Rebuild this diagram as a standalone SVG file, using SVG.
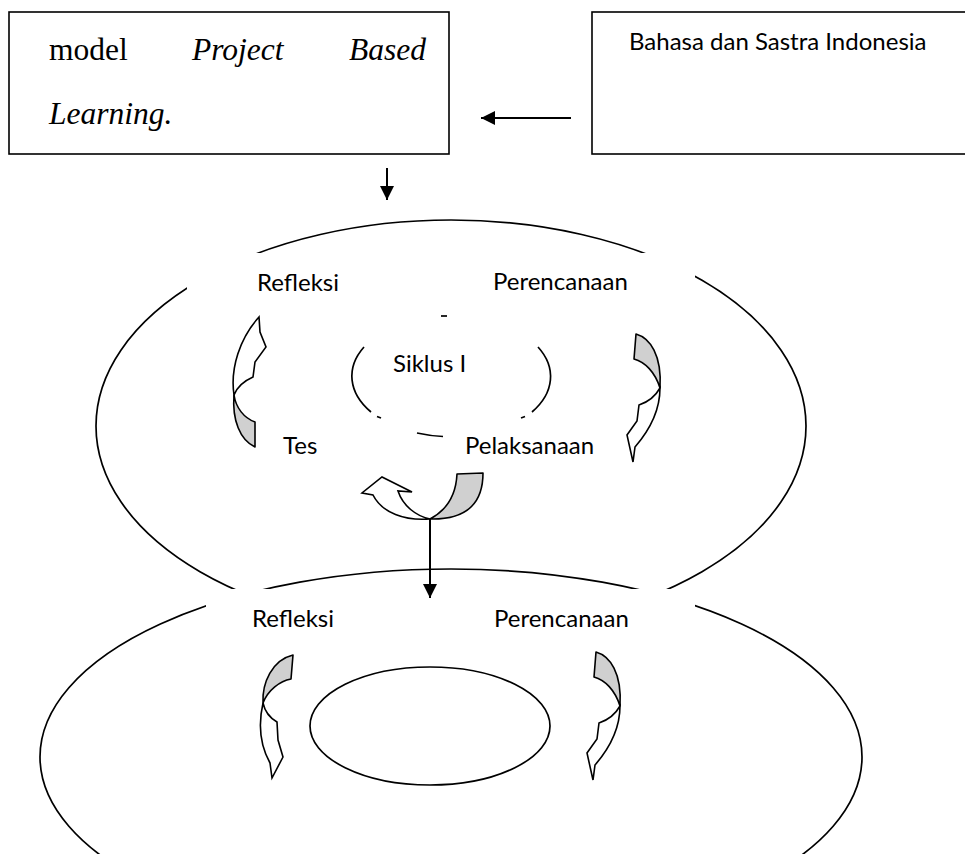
<svg xmlns="http://www.w3.org/2000/svg" width="965" height="854" viewBox="0 0 965 854">
<style>
.box{fill:#fff;stroke:#000;stroke-width:1.6}
.ell{fill:none;stroke:#000;stroke-width:1.7}
.lbl{font-family:Lato,"Open Sans","Liberation Sans",sans-serif;font-size:24px;fill:#000}
.ser{font-family:"Liberation Serif","Times New Roman",serif;font-size:31.5px;fill:#000}
.it{font-style:italic}
.gray{fill:#d0d0d0;stroke:#000;stroke-width:1.6;stroke-linejoin:round}
.white{fill:#fff;stroke:#000;stroke-width:1.6;stroke-linejoin:miter}
.con{stroke:#000;stroke-width:2;fill:none}
</style>
<defs>
<marker id="ah" markerUnits="userSpaceOnUse" markerWidth="16" markerHeight="14" refX="14" refY="7" orient="auto">
<path d="M0,0 L14,7 L0,14 Z" fill="#000"/>
</marker>
<mask id="occ" maskUnits="userSpaceOnUse" x="0" y="0" width="965" height="854">
<rect x="0" y="0" width="965" height="854" fill="#fff"/>
<rect x="187" y="253" width="508" height="292" fill="#000"/>
<rect x="206" y="589" width="489" height="120" fill="#000"/>
</mask>
</defs>
<rect width="965" height="854" fill="#fff"/>

<g id="cycle-ellipses" mask="url(#occ)">
<ellipse id="cycle1-ring" class="ell" cx="451" cy="426" rx="355" ry="206"/>
<ellipse id="cycle2-ring" class="ell" cx="451" cy="757" rx="411" ry="188"/>
</g>

<g id="box-model">
<rect class="box" x="9" y="12" width="440" height="142"/>
<text class="ser" x="49" y="60">model</text>
<text class="ser it" x="192" y="60">Project</text>
<text class="ser it" x="349" y="60">Based</text>
<text class="ser it" x="49" y="124">Learning.</text>
</g>

<g id="box-bahasa">
<rect class="box" x="592" y="12" width="380" height="142"/>
<text class="lbl" x="629" y="50">Bahasa dan Sastra Indonesia</text>
</g>

<g id="siklus1">
<path class="ell" d="M364,347 A100,61 0 0 0 371,412"/>
<path class="ell" d="M538,347 A100,61 0 0 1 532,412"/>
<path class="ell" d="M417,433 A100,61 0 0 0 443,436.5"/>
<path class="ell" d="M441,316 L447,316"/>
<path class="ell" d="M377,416.5 L381,418"/>
<path class="ell" d="M521,418 L525,416.5"/>
<text class="lbl" x="393" y="372">Siklus I</text>
</g>

<g id="label-refleksi1"><text class="lbl" x="257" y="291">Refleksi</text></g>
<g id="label-perencanaan1"><text class="lbl" x="493" y="290">Perencanaan</text></g>
<g id="label-tes"><text class="lbl" x="283" y="454">Tes</text></g>
<g id="label-pelaksanaan"><text class="lbl" x="465" y="454">Pelaksanaan</text></g>
<g id="label-refleksi2"><text class="lbl" x="252" y="627">Refleksi</text></g>
<g id="label-perencanaan2"><text class="lbl" x="494" y="627">Perencanaan</text></g>

<g id="siklus2">
<ellipse class="ell" cx="430" cy="726" rx="120" ry="59"/>
</g>

<g id="curved-arrows">
<g id="arrow-tes-refleksi">
<path class="gray" d="M234,395 C236,408 244,418 255,422 L255,447 C240,440 232,420 234,395 Z"/>
<path class="white" d="M234,395 C230,368 240,338 259,317 L260,332 L266,347 L255,362 L253,377 C244,381 237,387 234,395 Z"/>
</g>
<g id="arrow-perencanaan-pelaksanaan">
<path class="gray" d="M636,334 C650,338 662,355 660,388 C655,372 645,362 634,359 Z"/>
<path class="white" d="M660,388 C660,412 648,432 635,447 L633,462 L627,435 L637,421 L639,405 C648,402 655,397 660,388 Z"/>
</g>
<g id="arrow-pelaksanaan-tes">
<path class="gray" d="M457,474 L483,473 C483,500 470,520 430,519 C447,510 456,495 457,474 Z"/>
<path class="white" d="M430,519 C405,521 382,513 373,495 L362,493 L382,477 L412,492 L398,491 C403,506 416,516 430,519 Z"/>
</g>
<g id="arrow-refleksi2">
<path class="gray" d="M293,655 L291,679 C280,681 268,690 263,703 C262,683 272,660 293,655 Z"/>
<path class="white" d="M263,703 C258,725 260,745 270,763 L272,778 L283,757 L278,740 L277,722 C270,718 265,712 263,703 Z"/>
</g>
<g id="arrow-perencanaan2" transform="translate(-40,318)">
<path class="gray" d="M636,334 C650,338 662,355 660,388 C655,372 645,362 634,359 Z"/>
<path class="white" d="M660,388 C660,412 648,432 635,447 L633,462 L627,435 L637,421 L639,405 C648,402 655,397 660,388 Z"/>
</g>
</g>

<g id="connectors">
<line class="con" x1="571" y1="118" x2="481" y2="118" marker-end="url(#ah)"/>
<line class="con" x1="387" y1="168" x2="387" y2="200" marker-end="url(#ah)"/>
<line class="con" x1="430" y1="519" x2="430" y2="598" marker-end="url(#ah)"/>
</g>
</svg>
